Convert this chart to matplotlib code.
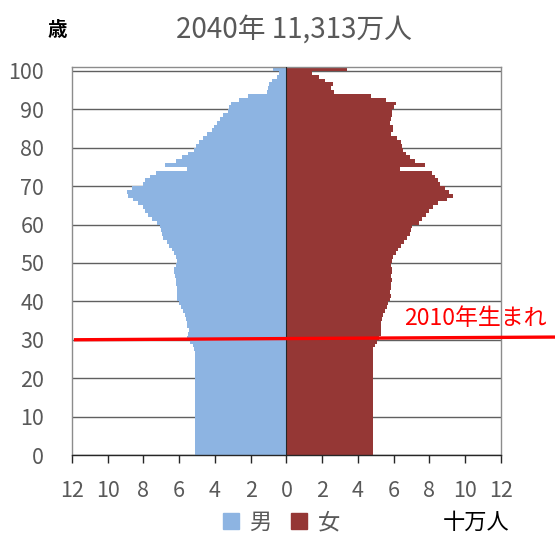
import numpy as np
import matplotlib.pyplot as plt
from matplotlib.patches import Patch

plt.rcParams['font.family'] = ['Noto Sans CJK JP', 'DejaVu Sans']

# 年齢 0..100 (100 = 100歳以上), 単位: 十万人
ages = np.arange(0, 101)

male = [5.10, 5.10, 5.10, 5.11, 5.11, 5.11, 5.11, 5.11, 5.11, 5.11,
        5.11, 5.11, 5.11, 5.11, 5.11, 5.11, 5.11, 5.11, 5.11, 5.11,
        5.11, 5.11, 5.11, 5.11, 5.11, 5.11, 5.11, 5.16, 5.23, 5.38,
        5.54, 5.50, 5.48, 5.54, 5.58, 5.61, 5.67, 5.77, 5.91, 5.99,
        6.10, 6.13, 6.10, 6.10, 6.17, 6.17, 6.23, 6.28, 6.28, 6.17,
        6.13, 6.17, 6.28, 6.41, 6.55, 6.69, 6.92, 6.99, 7.03, 7.10,
        7.25, 7.53, 7.72, 7.90, 8.03, 8.28, 8.60, 8.87, 8.90, 8.65,
        8.00, 7.90, 7.66, 7.29, 5.58, 6.77, 6.17, 5.86, 5.50, 5.20,
        5.06, 4.90, 4.65, 4.42, 4.18, 4.03, 3.87, 3.71, 3.53, 3.29,
        3.20, 3.12, 2.64, 2.13, 1.10, 1.05, 0.96, 0.83, 0.55, 0.40,
        0.74]

female = [4.82, 4.82, 4.82, 4.82, 4.82, 4.82, 4.82, 4.82, 4.82, 4.82,
          4.82, 4.82, 4.82, 4.82, 4.82, 4.82, 4.82, 4.82, 4.82, 4.82,
          4.82, 4.82, 4.82, 4.82, 4.82, 4.82, 4.82, 4.85, 4.94, 5.07,
          5.20, 5.28, 5.28, 5.31, 5.31, 5.36, 5.41, 5.49, 5.60, 5.67,
          5.78, 5.82, 5.78, 5.86, 5.86, 5.91, 5.86, 5.91, 5.91, 5.86,
          5.91, 5.97, 6.10, 6.23, 6.38, 6.57, 6.75, 6.90, 6.97, 7.03,
          7.40, 7.59, 7.83, 8.00, 8.18, 8.45, 9.00, 9.30, 9.10, 8.89,
          8.61, 8.46, 8.33, 8.14, 6.33, 7.77, 7.17, 6.90, 6.66, 6.50,
          6.45, 6.40, 6.16, 5.86, 5.97, 5.97, 5.78, 5.86, 5.91, 5.93,
          6.00, 6.10, 5.54, 4.74, 2.64, 2.51, 2.60, 2.18, 1.81, 1.44,
          3.36]

xticks = [-12, -10, -8, -6, -4, -2, 0, 2, 4, 6, 8, 10, 12]
yticks = [0, 10, 20, 30, 40, 50, 60, 70, 80, 90, 100]

# 2010年生まれの線 (2040年で30歳)
line_x = [-11.8, 15.0]
line_y = [30.0, 30.7]

male_color = '#8DB4E2'
female_color = '#953735'
grey_txt = '#595959'

fig = plt.figure(figsize=(5.55, 5.37), dpi=100)
ax = fig.add_axes([0.1297, 0.1527, 0.7730, 0.7225])

ax.barh(ages + 0.5, [-v for v in male], height=1.0, color=male_color, zorder=2)
ax.barh(ages + 0.5, female, height=1.0, color=female_color, zorder=2)
ax.axvline(0, color='#262626', lw=0.8, zorder=3)

ax.set_xlim(-12, 12)
ax.set_ylim(0, 101)
ax.set_xticks(xticks)
ax.set_xticklabels([str(abs(t)) for t in xticks])
ax.set_yticks(yticks)
ax.yaxis.grid(True, color='#606060', lw=1.0, zorder=0)
ax.set_axisbelow(True)

for s in ['left', 'right', 'top']:
    ax.spines[s].set_color('#8c8c8c')
    ax.spines[s].set_linewidth(1.0)
ax.spines['bottom'].set_color('#262626')
ax.spines['bottom'].set_linewidth(1.0)

ax.tick_params(axis='y', length=0, pad=20, labelsize=15.5, labelcolor=grey_txt)
ax.tick_params(axis='x', direction='out', length=6, width=1, color='#262626',
               pad=12, labelsize=15.5, labelcolor=grey_txt)

ax.plot(line_x, line_y, color='red', lw=2.4, clip_on=False, zorder=5)
ax.text(6.6, 35.5, '2010年生まれ', color='red', fontsize=16.5, va='center',
        ha='left', clip_on=False)

fig.text(0.53, 0.944, '2040年 11,313万人', ha='center', va='center',
         fontsize=20, color=grey_txt)
fig.text(0.103, 0.944, '歳', ha='center', va='center', fontsize=14,
         fontweight='bold', color='black')
fig.text(0.858, 0.027, '十万人', ha='center', va='center', fontsize=16,
         color='black')

handles = [Patch(color=male_color, label='男'), Patch(color=female_color, label='女')]
fig.legend(handles=handles, loc='center', bbox_to_anchor=(0.507, 0.027), ncol=2,
           frameon=False, fontsize=16, handlelength=0.72, handleheight=0.72,
           handletextpad=0.45, columnspacing=0.9, labelcolor=grey_txt)

fig.savefig('out.png', dpi=100)
